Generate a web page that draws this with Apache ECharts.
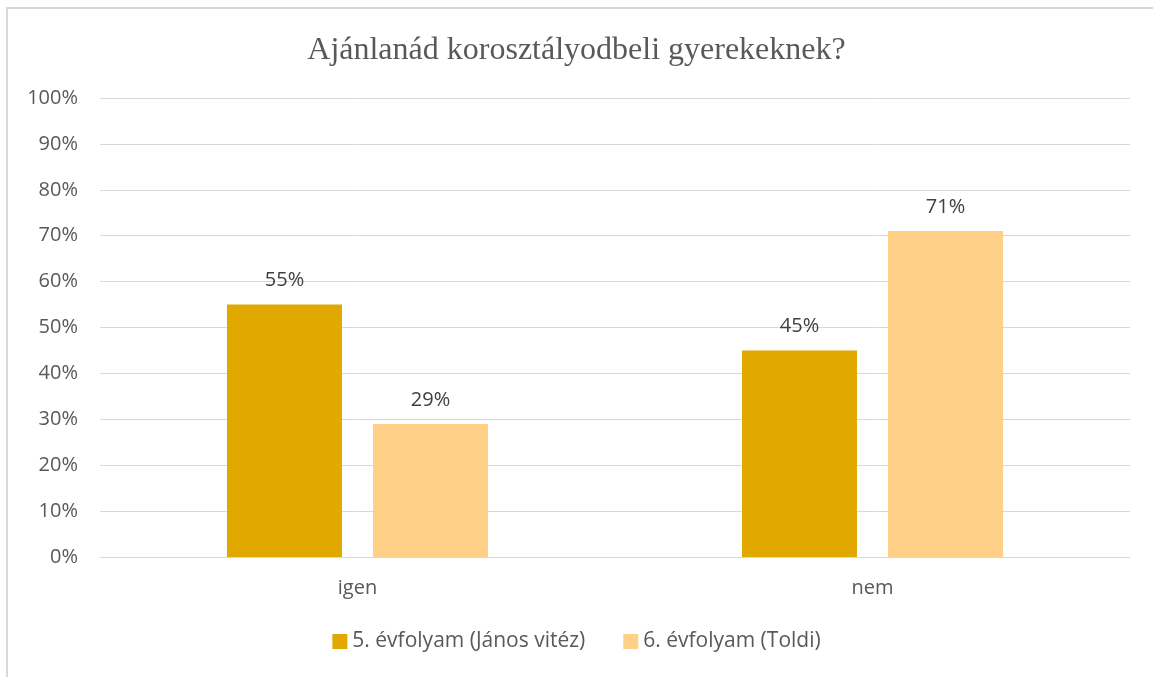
<!DOCTYPE html>
<html>
<head>
<meta charset="utf-8">
<script src="https://cdn.jsdelivr.net/npm/echarts@6/dist/echarts.min.js"></script>
<style>
  html, body { margin: 0; padding: 0; background: #fff; }
  #chart { width: 1153px; height: 677px; }
</style>
</head>
<body>
<div id="chart"></div>
<script>
const categories = ['igen', 'nem'];
const seriesNames = ['5. évfolyam (János vitéz)', '6. évfolyam (Toldi)'];
const grade5 = [55, 45];
const grade6 = [29, 71];
const yTicks = [0, 10, 20, 30, 40, 50, 60, 70, 80, 90, 100];

const textFont = '"Open Sans", Lato, sans-serif';
const labelStyle = {
  show: true,
  position: 'top',
  distance: 14,
  formatter: p => p.value + '%',
  color: '#404040',
  fontFamily: textFont,
  fontSize: 20
};

const chart = echarts.init(document.getElementById('chart'));
chart.setOption({
  animation: false,
  title: {
    text: 'Ajánlanád korosztályodbeli gyerekeknek?',
    left: 'center',
    top: 30,
    textStyle: {
      fontFamily: '"Liberation Serif", "DejaVu Serif", serif',
      fontWeight: 'normal',
      fontSize: 32,
      color: '#595959'
    }
  },
  graphic: [{
    type: 'rect',
    shape: { x: 7, y: 8, width: 1300, height: 800 },
    style: { fill: 'none', stroke: '#d9d9d9', lineWidth: 2 },
    silent: true
  }],
  legend: {
    bottom: 20,
    left: 'center',
    itemWidth: 15,
    itemHeight: 15,
    itemGap: 38,
    icon: 'rect',
    textStyle: { fontFamily: textFont, fontSize: 21, color: '#595959' },
    data: seriesNames
  },
  grid: { left: 100, right: 23, top: 98, bottom: 120 },
  xAxis: {
    type: 'category',
    data: categories,
    axisLine: { lineStyle: { color: '#d9d9d9', width: 1 } },
    axisTick: { show: false },
    axisLabel: { color: '#595959', fontFamily: textFont, fontSize: 20, margin: 21 }
  },
  yAxis: {
    type: 'value',
    min: yTicks[0],
    max: yTicks[yTicks.length - 1],
    interval: 10,
    axisLine: { show: false },
    axisTick: { show: false },
    splitLine: { lineStyle: { color: '#d9d9d9', width: 1 } },
    axisLabel: {
      color: '#595959', fontFamily: textFont, fontSize: 20, margin: 22,
      formatter: v => v + '%'
    }
  },
  series: [
    {
      name: seriesNames[0],
      type: 'bar',
      data: grade5,
      barWidth: 115,
      barGap: '27%',
      itemStyle: { color: '#E1A800' },
      label: labelStyle
    },
    {
      name: seriesNames[1],
      type: 'bar',
      data: grade6,
      barWidth: 115,
      barGap: '27%',
      itemStyle: { color: '#FFD087' },
      label: labelStyle
    }
  ]
});
</script>
</body>
</html>
